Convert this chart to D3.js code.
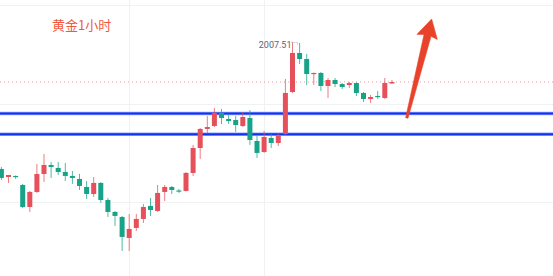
<!DOCTYPE html>
<html>
<head>
<meta charset="utf-8">
<script src="https://cdn.jsdelivr.net/npm/d3@7/dist/d3.min.js"></script>
<style>
body { margin: 0; background: #ffffff; }
svg { display: block; }
</style>
</head>
<body>
<svg></svg>
<script>
// hourly gold candles
var opens = [1981.71, 1980.08, 1980.29, 1978.46, 1973.99, 1977.04, 1980.69, 1982.52, 1981.91, 1981.10,
    1980.29, 1979.68, 1978.05, 1976.63, 1978.87, 1975.41, 1972.98, 1971.96, 1967.70, 1969.73,
    1971.56, 1974.20, 1973.18, 1977.04, 1978.05, 1977.34, 1977.24, 1980.90, 1985.97, 1989.83,
    1990.44, 1993.08, 1991.86, 1991.65, 1990.44, 1992.06, 1987.39, 1985.16, 1988.00, 1986.99,
    1988.81, 1997.34, 2005.26, 2004.04, 2000.99, 2001.20, 1998.56, 1999.77, 1998.96, 1998.76,
    1999.17, 1997.14, 1995.92, 1996.53, 1996.12, 1999.06]
var highs = [1982.11, 1980.49, 1980.39, 1978.66, 1977.24, 1982.72, 1984.75, 1983.13, 1983.13, 1982.93,
    1981.30, 1980.69, 1979.27, 1980.08, 1979.07, 1975.82, 1973.18, 1972.17, 1972.57, 1972.57,
    1974.60, 1975.82, 1978.46, 1978.46, 1978.26, 1977.65, 1981.10, 1986.58, 1990.03, 1992.47,
    1994.09, 1993.89, 1992.87, 1992.47, 1993.28, 1993.68, 1988.41, 1989.42, 1988.81, 1989.02,
    1999.98, 2007.51, 2007.29, 2005.05, 2001.30, 2001.40, 2000.18, 2000.18, 1999.17, 1999.37,
    1999.27, 1997.34, 1996.73, 1997.54, 2000.18, 1999.77]
var lows = [1979.47, 1978.87, 1979.68, 1973.79, 1972.98, 1976.84, 1979.07, 1979.88, 1980.49, 1979.27,
    1978.66, 1977.44, 1975.62, 1976.02, 1974.81, 1971.96, 1970.14, 1965.06, 1965.06, 1969.12,
    1970.75, 1972.17, 1972.98, 1975.21, 1976.63, 1976.84, 1977.14, 1980.29, 1983.74, 1989.02,
    1990.23, 1990.84, 1990.84, 1989.22, 1990.23, 1986.58, 1983.94, 1984.96, 1985.97, 1986.38,
    1988.61, 1997.14, 2003.02, 1998.76, 1998.76, 1997.54, 1996.12, 1998.35, 1997.95, 1998.15,
    1996.53, 1995.31, 1995.11, 1995.92, 1995.92, 1999.06]
var closes = [1979.88, 1980.49, 1980.08, 1973.99, 1977.04, 1980.69, 1982.52, 1982.11, 1981.10, 1980.29,
    1979.88, 1978.26, 1976.63, 1978.87, 1975.41, 1972.98, 1972.17, 1967.90, 1969.53, 1971.56,
    1973.99, 1973.38, 1976.84, 1978.05, 1977.44, 1977.14, 1980.90, 1985.97, 1989.83, 1990.23,
    1993.08, 1992.06, 1991.45, 1990.64, 1992.26, 1987.59, 1984.96, 1988.20, 1986.99, 1988.41,
    1997.14, 2005.26, 2004.04, 2000.99, 2001.20, 1998.56, 1999.77, 1998.96, 1998.35, 1999.17,
    1997.14, 1995.92, 1996.32, 1996.32, 1999.17, 1999.37]

// the two blue lines drawn on the chart
var levels = [1992.97, 1988.75]
// faint price grid and time grid (bar index)
var gridPrices = [2015, 1995, 1975]
var gridBars = [18, 37]

var titleText = "黄金1小时"
var highLabel = "2007.51"

// arrow annotation, from bar/price to bar/price
var arrowFrom = { bar: 57.1, price: 1992.06 }
var arrowTo = { bar: 60.6, price: 2012.16 }

var screen = { width: 553, height: 276 }

var upColor = "#e5505a"
var downColor = "#17a387"

var makeTranslateString = function (x, y) {
    return "translate(" + x + "," + y + ")";
}

var drawGrid = function (target, xScale, yScale) {
    target.append("g")
        .selectAll("line")
        .data(gridPrices)
        .enter()
        .append("line")
        .attr("x1", 0)
        .attr("x2", screen.width)
        .attr("y1", function (p) { return Math.round(yScale(p)) + 0.5 })
        .attr("y2", function (p) { return Math.round(yScale(p)) + 0.5 })
        .attr("stroke", "#f0f1f3")
        .attr("stroke-width", 1)

    target.append("g")
        .selectAll("line")
        .data(gridBars)
        .enter()
        .append("line")
        .attr("x1", function (b) { return Math.round(xScale(b)) + 0.5 })
        .attr("x2", function (b) { return Math.round(xScale(b)) + 0.5 })
        .attr("y1", 0)
        .attr("y2", screen.height)
        .attr("stroke", "#f0f1f3")
        .attr("stroke-width", 1)
}

var drawCandles = function (target, xScale, yScale) {
    var bars = opens.map(function (o, i) {
        return { i: i, open: o, high: highs[i], low: lows[i], close: closes[i] }
    })

    var candles = target.append("g")
        .selectAll("g")
        .data(bars)
        .enter()
        .append("g")
        .attr("fill", function (bar) { return bar.close >= bar.open ? upColor : downColor })
        .attr("stroke", function (bar) { return bar.close >= bar.open ? upColor : downColor })

    candles.append("line")
        .attr("x1", function (bar) { return xScale(bar.i) })
        .attr("x2", function (bar) { return xScale(bar.i) })
        .attr("y1", function (bar) { return yScale(bar.high) })
        .attr("y2", function (bar) { return yScale(bar.low) })
        .attr("stroke-width", 1)
        .attr("stroke-opacity", 0.75)

    candles.append("rect")
        .attr("x", function (bar) { return xScale(bar.i) - 2.5 })
        .attr("width", 5)
        .attr("y", function (bar) { return yScale(Math.max(bar.open, bar.close)) })
        .attr("height", function (bar) {
            return Math.max(1.2, Math.abs(yScale(bar.open) - yScale(bar.close)))
        })
        .attr("stroke", "none")
}

var drawLevels = function (target, yScale) {
    // last price line
    var last = closes[closes.length - 1]
    target.append("line")
        .attr("x1", 0)
        .attr("x2", screen.width)
        .attr("y1", yScale(last))
        .attr("y2", yScale(last))
        .attr("stroke", "#f09aa2")
        .attr("stroke-width", 1)
        .attr("stroke-dasharray", "1,3")

    var lines = target.append("g")
        .selectAll("g")
        .data(levels)
        .enter()
        .append("g")

    lines.append("line")
        .attr("x1", 0)
        .attr("x2", screen.width)
        .attr("y1", function (p) { return yScale(p) })
        .attr("y2", function (p) { return yScale(p) })
        .attr("stroke", "#8fa0ff")
        .attr("stroke-width", 3.5)
    lines.append("line")
        .attr("x1", 0)
        .attr("x2", screen.width)
        .attr("y1", function (p) { return yScale(p) })
        .attr("y2", function (p) { return yScale(p) })
        .attr("stroke", "#1232f2")
        .attr("stroke-width", 2)
}

var drawLabels = function (target, xScale, yScale) {
    var hi = d3.max(highs)
    var hiBar = highs.indexOf(hi)

    target.append("text")
        .text(titleText)
        .attr("x", 52)
        .attr("y", 30)
        .attr("fill", "#ef5a40")
        .attr("font-size", "13px")
        .attr("font-family", "'Noto Sans CJK SC', 'Noto Sans', sans-serif")

    target.append("text")
        .text(highLabel)
        .attr("text-anchor", "end")
        .attr("x", xScale(hiBar) - 1)
        .attr("y", yScale(hi) + 6)
        .attr("fill", "#606370")
        .attr("font-size", "9px")
        .attr("font-family", "Roboto, 'Noto Sans', sans-serif")

    // small bracket from the label to the top of the wick
    target.append("path")
        .attr("d", d3.line()([
            [xScale(hiBar) - 1, yScale(hi) + 0.5],
            [xScale(hiBar + 0.7), yScale(hi) + 0.5],
            [xScale(hiBar + 0.7), yScale(hi) + 3]
        ]))
        .attr("fill", "none")
        .attr("stroke", "#b0b3bb")
        .attr("stroke-width", 1)
        .attr("stroke-dasharray", "1,1")
}

var drawArrow = function (target, xScale, yScale) {
    var x0 = xScale(arrowFrom.bar), y0 = yScale(arrowFrom.price)
    var x1 = xScale(arrowTo.bar), y1 = yScale(arrowTo.price)
    var len = Math.sqrt((x1 - x0) * (x1 - x0) + (y1 - y0) * (y1 - y0))
    var ux = (x1 - x0) / len, uy = (y1 - y0) / len
    var nx = -uy, ny = ux
    var headLen = 17, headHalf = 10.5, tailHalf = 1.2, neckHalf = 3.6
    var bx = x1 - ux * headLen, by = y1 - uy * headLen

    var pts = [
        [x0 + nx * tailHalf, y0 + ny * tailHalf],
        [bx + nx * neckHalf, by + ny * neckHalf],
        [bx + nx * headHalf - ux * 1.5, by + ny * headHalf - uy * 1.5],
        [x1, y1],
        [bx - nx * headHalf - ux * 1.5, by - ny * headHalf - uy * 1.5],
        [bx - nx * neckHalf, by - ny * neckHalf],
        [x0 - nx * tailHalf, y0 - ny * tailHalf]
    ]

    target.append("path")
        .attr("d", d3.line()(pts) + "Z")
        .attr("fill", "#e8432a")
        .attr("stroke", "#e8432a")
        .attr("stroke-width", 0.6)
        .attr("stroke-linejoin", "round")
}

var initChart = function () {
    var svg = d3.select("svg")
        .attr("width", screen.width)
        .attr("height", screen.height)

    var xScale = d3.scaleLinear()
        .domain([0, 55])
        .range([1.4, 391.9])

    var yScale = d3.scaleLinear()
        .domain([1975, 2015])
        .range([202, 5])

    var target = svg.append("g")
        .attr("transform", makeTranslateString(0, 0))

    drawGrid(target, xScale, yScale)
    drawLevels(target, yScale)
    drawCandles(target, xScale, yScale)
    drawLabels(target, xScale, yScale)
    drawArrow(target, xScale, yScale)
}

initChart()
</script>
</body>
</html>
